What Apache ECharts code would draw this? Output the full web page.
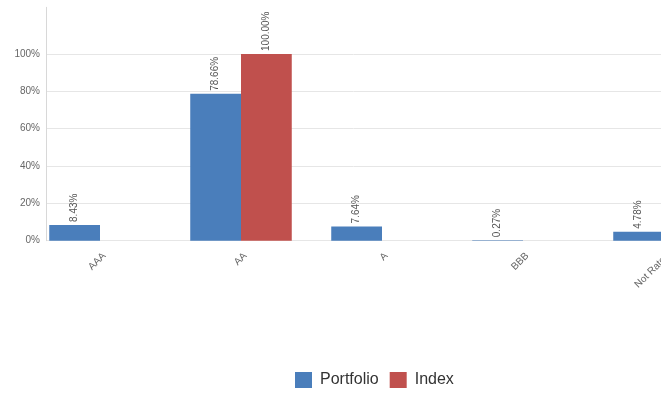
<!DOCTYPE html>
<html><head><meta charset="utf-8">
<script src="https://cdn.jsdelivr.net/npm/echarts@6/dist/echarts.min.js"></script>
<style>html,body{margin:0;padding:0;background:#fff}#c{width:661px;height:393px}</style>
</head><body><div id="c"></div>
<script>
const categories = ['AAA', 'AA', 'A', 'BBB', 'Not Rated'];
const portfolio = [8.43, 78.66, 7.64, 0.27, 4.78];
const indexVals = [null, 100.00, null, null, null];
const yTicks = [0, 20, 40, 60, 80, 100];

const chart = echarts.init(document.getElementById('c'));
const font = 'Liberation Sans, Arial, sans-serif';
const lbl = {
  show: true, position: 'top', rotate: 90, align: 'left', verticalAlign: 'middle',
  distance: 3, fontSize: 10, color: '#555', fontFamily: font,
  formatter: p => p.value == null ? '' : p.value.toFixed(2) + '%'
};
chart.setOption({
  animation: false,
  textStyle: { fontFamily: font },
  grid: [
    { left: 46, right: 0, top: 7.3, bottom: 152.3, outerBoundsMode: 'none', containLabel: false },
    { left: 29.5, width: 705, top: 7.3, bottom: 152.3, outerBoundsMode: 'none', containLabel: false }
  ],
  legend: {
    left: 290, top: 367, itemWidth: 17, itemHeight: 16, itemGap: 11,
    icon: 'rect',
    textStyle: { fontSize: 16, color: '#333', fontFamily: font, padding: [0, 0, 0, 3] },
    data: ['Portfolio', 'Index']
  },
  xAxis: [
    { gridIndex: 0, type: 'value', min: 0, max: 1, show: false },
    { gridIndex: 1, type: 'category', data: categories,
      axisLine: { show: false }, axisTick: { show: false },
      axisLabel: { rotate: 45, fontSize: 10, color: '#666', margin: 18, interval: 0,
        padding: [0, -6, 0, 0], fontFamily: font } }
  ],
  yAxis: [
    { gridIndex: 0, type: 'value', min: 0, max: 125, interval: 20,
      axisLine: { show: true, lineStyle: { color: '#d8d8d8' } },
      axisTick: { show: false },
      axisLabel: { fontSize: 10, color: '#666', margin: 6, fontFamily: font,
        formatter: v => yTicks.includes(v) ? v + '%' : '' },
      splitLine: { show: true, showMaxLine: false,
        lineStyle: { color: ['#e6e6e6','#e6e6e6','#e6e6e6','#e6e6e6','#e6e6e6','#e6e6e6','rgba(0,0,0,0)','rgba(0,0,0,0)'] } } },
    { gridIndex: 1, type: 'value', min: 0, max: 125, interval: 20, show: false,
      splitLine: { show: false } }
  ],
  series: [
    { name: 'Portfolio', type: 'bar', xAxisIndex: 1, yAxisIndex: 1, data: portfolio,
      barGap: 0, barCategoryGap: '28%',
      itemStyle: { color: '#4a7ebb' }, label: lbl },
    { name: 'Index', type: 'bar', xAxisIndex: 1, yAxisIndex: 1, data: indexVals,
      itemStyle: { color: '#c0504d' }, label: lbl }
  ]
});
</script></body></html>
